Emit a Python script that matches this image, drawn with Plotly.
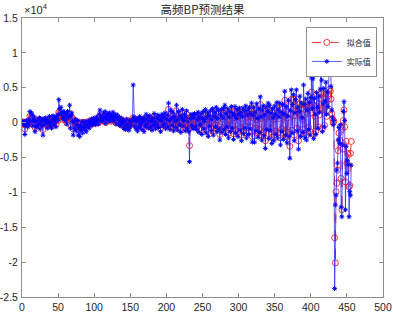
import plotly.graph_objects as go

# Actual values (实际值), raw units
actual = [
    200, -300, 100, -1700, -400, 300, -100, -600, 400, -200,
    1600, 200, 1400, 1100, -500, 300, 800, -1300, 200, -600,
    -500, 400, -200, 700, -900, 100, 500, -400, -1800, 300,
    600, -300, 700, 200, -800, 400, -100, 900, -500, 100,
    -800, 500, 1000, -300, 600, 200, -600, 800, 1100, 300,
    3300, 2000, 1200, 2200, 1400, 600, 1600, 900, 1500, 300,
    1300, -200, 1600, 700, 1000, 2500, -800, 1000, 1400, 200,
    -1800, 100, -900, 500, -1200, -300, 300, -1800, -700, -2000,
    -400, -1100, 200, -1500, -600, 100, -900, -300, -1300, 200,
    -500, 100, -800, 300, -200, 500, -400, 200, 600, -100,
    400, -300, 800, 100, 500, -200, 1200, 1800, 300, 700,
    900, 200, 1400, 600, 1600, -100, 1000, 500, 1300, 300,
    1400, 800, 200, 1100, 600, 1500, 300, 900, 1200, -200,
    700, 1100, 400, -300, 800, 200, -500, 600, -100, 300,
    -800, 200, -1000, -400, 500, -900, -200, -1100, 300, -600,
    -300, 200, 400, 5400, 800, -500, 300, -900, 600, -1200,
    200, -700, 900, -300, 500, -1000, 100, 700, -1300, 400,
    -500, 1200, -200, 800, -800, 300, 1000, -600, 200, -1100,
    600, -400, 1300, 100, -900, 700, -300, 1100, -700, 400,
    900, -1300, 300, 1200, -500, 800, -200, 1400, -900, 500,
    1100, -600, 2800, 300, -1000, 1800, 600, -400, 1500, -1200,
    900, 200, -700, 2500, 400, -1100, 1600, -300, 1000, -1400,
    700, 1900, -500, 300, 1200, -1200, 800, 1700, -800, 200,
    -1300, -5600, 600, 1200, -400, 1100, -900, 700, 1300, -600,
    1200, -1000, 400, 1500, -1400, 800, -300, 1300, -1700, 600,
    1600, -900, 200, 1900, -1500, 700, 1400, -2000, 1000, -500,
    1700, -1200, 400, 2000, -1800, 900, 1500, -600, 2200, -1300,
    600, 1800, -900, -2500, 1200, 1900, -1400, 700, 2100, -1000,
    2500, -1700, 1300, -600, 2000, -2200, 800, 1600, -1300, 2300,
    -800, 1400, -2400, 1000, 2300, -1500, 600, 1900, -2000, 1200,
    2100, -1100, 1500, -2600, 900, 2100, -1600, 1700, -800, 2400,
    -2200, 1100, 1800, -1700, 2200, -900, 1300, 2800, -2800, 1000,
    2200, -2800, 1500, -1200, 2700, 600, -2100, 2000, -1400, 3700,
    800, -2500, 1800, 2400, -1900, 1100, -3700, 2300, -1000, 1600,
    2800, -2300, 2500, -1100, 1400, -3000, 2000, 700, -2600, 2400,
    1200, -1700, 2900, -2200, 1900, 800, 2800, -3200, 1500, -1300,
    2600, -2400, 1200, 4500, -1800, 2300, -2900, 900, 3200, -2000,
    -5100, 1700, 4700, -1500, 2600, 4000, -2600, 1400, 3300, 4700,
    -1200, 2200, -3800, 1600, 3800, -2000, 2800, 700, -1400, 5400,
    2600, -2200, 3400, -2500, 1800, 4200, -1000, 2900, -1800, 3600,
    6400, 2000, 6300, -2300, 3500, 1200, -1700, 4300, 2200, -800,
    3800, 1500, 4800, 8300, 6100, -1300, 2700, 4900, -600, 3100,
    5800, 1200, 4400, 2300, 8500, 10700, 8600, 5200, 1800, 700,
    -300, 300, -23800, -11800, -10400, -6800, -5800, -2500, -700, -3000,
    -300, -12100, -13500, -3200, 1600, 3000, 300, -12500, -3400, -7300,
    -5400, -6000, -13500, -9900, -10400, -6100,
]

# Fitted values (拟合值), raw units
fitted = [
    100, -200, 0, -900, -300, 100, -100, -300, 200, -100,
    900, 300, 800, 700, -200, 200, 500, -700, 0, -300,
    -300, 200, -100, 400, -500, 0, 300, -200, -1000, 100,
    400, -100, 400, 200, -400, 200, 0, 500, -300, 100,
    -400, 300, 600, -100, 400, 200, -300, 500, 700, 300,
    1500, 1300, 900, 1300, 1000, 500, 1000, 700, 1000, 400,
    800, 0, 1000, 500, 700, 1300, -300, 600, 800, 200,
    -900, 0, -500, 200, -700, -200, 100, -1000, -500, -1100,
    -300, -700, 0, -800, -400, 0, -500, -200, -700, 100,
    -300, 0, -400, 200, -100, 300, -200, 100, 400, 0,
    300, -100, 500, 100, 300, 0, 700, 1000, 300, 500,
    600, 200, 800, 400, 900, 0, 600, 400, 800, 300,
    800, 500, 200, 700, 400, 900, 300, 600, 700, 0,
    400, 600, 300, -100, 500, 100, -300, 400, 0, 200,
    -400, 100, -600, -200, 300, -500, -100, -600, 200, -300,
    -200, 100, 300, 700, 500, -300, 200, -500, 400, -700,
    100, -400, 500, -200, 300, -600, 100, 400, -700, 200,
    -300, 700, -100, 500, -500, 200, 600, -400, 100, -600,
    400, -200, 800, 100, -500, 400, -200, 700, -400, 300,
    600, -800, 200, 800, -300, 500, -100, 900, -500, 300,
    700, -400, 1900, 200, -600, 1200, 400, -200, 1000, -700,
    600, 100, -400, 1700, 300, -700, 1100, -200, 700, -900,
    500, 1300, -300, 200, 800, -800, 500, 1200, -500, 100,
    -800, -3300, 400, 800, -300, 700, -600, 500, 900, -400,
    800, -700, 300, 1000, -900, 500, -200, 900, -1100, 400,
    1100, -600, 100, 1300, -1000, 500, 900, -1300, 700, -300,
    1200, -800, 300, 1400, -1200, 600, 1000, -400, 1500, -900,
    400, 1200, -600, -1700, 800, 1300, -900, 500, 1400, -700,
    1700, -1100, 900, -400, 1400, -1500, 500, 1100, -900, 1600,
    -500, 1000, -1600, 700, 1600, -1000, 400, 1300, -1400, 800,
    1500, -700, 1000, -1800, 600, 1500, -1100, 1200, -500, 1700,
    -1500, 800, 1300, -1200, 1600, -600, 900, 2000, -2000, 700,
    1600, -1900, 1000, -800, 1900, 400, -1500, 1400, -1000, 2600,
    600, -1800, 1300, 1700, -1300, 800, -2600, 1600, -700, 1100,
    2000, -1600, 1800, -800, 1000, -2100, 1400, 500, -1800, 1700,
    900, -1200, 2100, -1500, 1400, 600, 2000, -2200, 1100, -900,
    1900, -1700, 900, 3200, -1300, 1700, -2000, 700, 2300, -1400,
    -3400, 1200, 3300, -1100, 1900, 3300, -1800, 1000, 2400, 3400,
    -800, 1600, -2600, 1200, 2700, -1400, 2000, 500, -1000, 2600,
    1900, -1500, 2400, -1800, 1300, 3000, -700, 2100, -1300, 2600,
    4400, 1400, 3600, -1600, 2500, 900, -1200, 3100, 1600, -600,
    2700, 1100, 3400, 4100, 4300, -900, 1900, 3500, -400, 2200,
    4100, 900, 3100, 1700, 3900, 4800, 4500, 3400, 1300, 600,
    0, 200, -16500, -20100, -9900, -8700, -6800, -4000, -1500, -2500,
    -600, -8000, -12500, -3800, 300, 1800, -600, -8500, -2700, -5800,
    -4400, -4600, -9200, -9000, -4400, -2700,
]

x_idx = list(range(1, len(actual) + 1))

y_tick_vals = [-25000, -20000, -15000, -10000, -5000, 0, 5000, 10000, 15000]
y_tick_text = ["-2.5", "-2", "-1.5", "-1", "-0.5", "0", "0.5", "1", "1.5"]
x_tick_vals = [0, 50, 100, 150, 200, 250, 300, 350, 400, 450, 500]

title_text = "高频BP预测结果"
name_fit = "拟合值"
name_act = "实际值"

fig = go.Figure()
fig.add_trace(go.Scatter(
    x=x_idx, y=fitted, name=name_fit, mode="lines+markers",
    line=dict(color="#ff2020", width=0.9, dash="dash"),
    marker=dict(symbol="circle-open", size=6, color="#ff2020", line=dict(width=0.9)),
))
fig.add_trace(go.Scatter(
    x=x_idx, y=actual, name=name_act, mode="lines+markers",
    line=dict(color="rgba(40,40,255,0.85)", width=0.9),
    marker=dict(symbol="asterisk-open", size=4, color="#0000ff", line=dict(width=1, color="#0000ff")),
))

axis_common = dict(
    showline=True, linecolor="#8c8c8c", linewidth=1, mirror="ticks",
    ticks="inside", ticklen=4, tickcolor="#8c8c8c", showgrid=False, zeroline=False,
    automargin=False,
    tickfont=dict(family="Liberation Sans, Arial", size=10.5, color="#262626"),
)

fig.update_layout(
    width=393, height=314,
    margin=dict(l=22, r=10, t=18, b=17),
    paper_bgcolor="white", plot_bgcolor="white",
    title=dict(text=title_text, x=0.5, xref="paper", xanchor="center",
               y=1 - 10 / 314, yref="container", yanchor="middle",
               font=dict(family="Noto Sans CJK SC", size=11.5, color="#262626")),
    xaxis=dict(range=[0, 500], tickvals=x_tick_vals, ticklabelstandoff=0, **axis_common),
    yaxis=dict(range=[-25000, 15000], tickvals=y_tick_vals, ticktext=y_tick_text,
               ticklabelstandoff=1, **axis_common),
    legend=dict(x=0.983, y=0.968, xanchor="right", yanchor="top",
                bgcolor="white", bordercolor="#8c8c8c", borderwidth=1,
                font=dict(family="Noto Sans CJK SC", size=8, color="#262626"),
                itemwidth=30, tracegroupgap=0),
    showlegend=True,
    annotations=[dict(text="×10<sup>4</sup>", xref="paper", yref="paper", x=0, y=1,
                      xanchor="left", yanchor="bottom", showarrow=False,
                      font=dict(family="Liberation Sans, Arial", size=11, color="#262626"))],
)

fig.write_html("out.html", config={"displayModeBar": False},
               post_script="document.body.style.margin='0';document.body.style.padding='0';")
